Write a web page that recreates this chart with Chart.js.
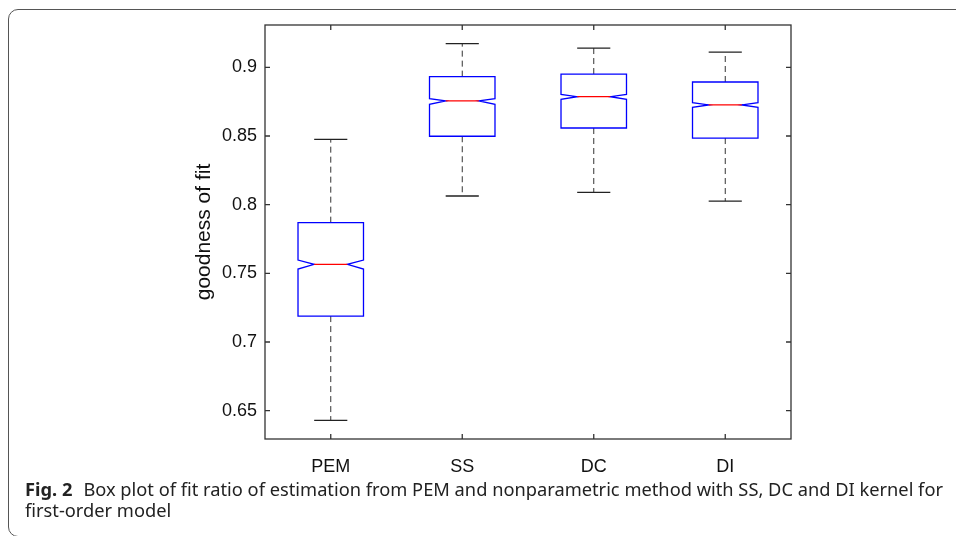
<!DOCTYPE html>
<html>
<head>
<meta charset="utf-8">
<script src="https://cdn.jsdelivr.net/npm/chart.js@4.4.1/dist/chart.umd.min.js"></script>
<style>
  html, body { margin: 0; padding: 0; background: #fff; }
  #wrap { position: relative; width: 956px; height: 536px; overflow: hidden; }
  #chart { position: absolute; left: 0; top: 0; }
  #card {
    position: absolute; left: 8px; top: 9px; width: 1000px; height: 528px;
    box-sizing: border-box; border: 1.3px solid #555; border-radius: 10px;
  }
  #caption {
    position: absolute; left: 25px; top: 479px; white-space: nowrap;
    font-family: "Noto Sans", "Open Sans", sans-serif; font-size: 17.5px;
    line-height: 21px; color: #222; transform-origin: 0 0;
  }
  #caption b { font-weight: 700; margin-right: 6px; }
</style>
</head>
<body>
<div id="wrap">
  <canvas id="chart" width="956" height="536"></canvas>
  <div id="card"></div>
  <div id="caption">
    <div id="line1"><b>Fig. 2</b> Box plot of fit ratio of estimation from PEM and nonparametric method with SS, DC and DI kernel for</div>
    <div>first-order model</div>
  </div>
</div>
<script>
// Box plot values
const categories = ['PEM', 'SS', 'DC', 'DI'];
const whiskerLow = [0.643, 0.8063, 0.809, 0.8026];
const q1 = [0.7189, 0.8498, 0.8558, 0.8485];
const notchLow = [0.7531, 0.8731, 0.8767, 0.8709];
const median = [0.7566, 0.8755, 0.8786, 0.8726];
const notchHigh = [0.7597, 0.8771, 0.8803, 0.8742];
const q3 = [0.7869, 0.8932, 0.8951, 0.8893];
const whiskerHigh = [0.8476, 0.9172, 0.914, 0.9111];

// Axis
const yTicks = [0.65, 0.7, 0.75, 0.8, 0.85, 0.9];
const yTickLabels = ['0.65', '0.7', '0.75', '0.8', '0.85', '0.9'];
const yMin = 0.6294;
const yMax = 0.9308;

// Draws notched boxes, whiskers, frame and inward ticks
const boxPlotPlugin = {
    id: 'boxPlot',
    afterDatasetsDraw(chart) {
        const ctx = chart.ctx;
        const xs = chart.scales.x, ys = chart.scales.y;
        const area = chart.chartArea;
        const step = Math.abs(xs.getPixelForValue(1) - xs.getPixelForValue(0));
        const half = step * 0.249;
        const notchHalf = step * 0.126;

        ctx.save();
        for (let i = 0; i < categories.length; i++) {
            const cx = xs.getPixelForValue(i);
            const L = cx - half, R = cx + half;
            const yq1 = ys.getPixelForValue(q1[i]);
            const yq3 = ys.getPixelForValue(q3[i]);
            const ym = ys.getPixelForValue(median[i]);
            const ynl = ys.getPixelForValue(notchLow[i]);
            const ynh = ys.getPixelForValue(notchHigh[i]);
            const ywl = ys.getPixelForValue(whiskerLow[i]);
            const ywh = ys.getPixelForValue(whiskerHigh[i]);

            // whiskers
            ctx.strokeStyle = '#333';
            ctx.lineWidth = 1;
            ctx.setLineDash([6, 4]);
            ctx.beginPath();
            ctx.moveTo(cx, yq3); ctx.lineTo(cx, ywh);
            ctx.moveTo(cx, yq1); ctx.lineTo(cx, ywl);
            ctx.stroke();
            ctx.setLineDash([]);
            ctx.strokeStyle = '#222';
            ctx.lineWidth = 1.3;
            ctx.beginPath();
            ctx.moveTo(cx - notchHalf, ywh); ctx.lineTo(cx + notchHalf, ywh);
            ctx.moveTo(cx - notchHalf, ywl); ctx.lineTo(cx + notchHalf, ywl);
            ctx.stroke();

            // notched box
            ctx.strokeStyle = '#0000ff';
            ctx.lineWidth = 1.3;
            ctx.beginPath();
            ctx.moveTo(L, yq3);
            ctx.lineTo(L, ynh);
            ctx.lineTo(cx - notchHalf, ym);
            ctx.lineTo(L, ynl);
            ctx.lineTo(L, yq1);
            ctx.lineTo(R, yq1);
            ctx.lineTo(R, ynl);
            ctx.lineTo(cx + notchHalf, ym);
            ctx.lineTo(R, ynh);
            ctx.lineTo(R, yq3);
            ctx.closePath();
            ctx.stroke();

            // median
            ctx.strokeStyle = '#ff0000';
            ctx.beginPath();
            ctx.moveTo(cx - notchHalf, ym); ctx.lineTo(cx + notchHalf, ym);
            ctx.stroke();
        }

        // frame
        ctx.strokeStyle = '#333';
        ctx.lineWidth = 1.3;
        ctx.strokeRect(area.left, area.top, area.right - area.left, area.bottom - area.top);

        // inward ticks
        const tl = 5;
        ctx.beginPath();
        yTicks.forEach(v => {
            const py = ys.getPixelForValue(v);
            ctx.moveTo(area.left, py); ctx.lineTo(area.left + tl, py);
            ctx.moveTo(area.right, py); ctx.lineTo(area.right - tl, py);
        });
        categories.forEach((c, i) => {
            const px = xs.getPixelForValue(i);
            ctx.moveTo(px, area.bottom); ctx.lineTo(px, area.bottom - tl);
            ctx.moveTo(px, area.top); ctx.lineTo(px, area.top + tl);
        });
        ctx.stroke();
        ctx.restore();
    }
};

const ctx = document.getElementById('chart').getContext('2d');
new Chart(ctx, {
    type: 'bar',
    data: {
        labels: categories,
        datasets: [{
            data: categories.map((c, i) => [q1[i], q3[i]]),
            backgroundColor: 'rgba(0,0,0,0)',
            borderWidth: 0
        }]
    },
    options: {
        responsive: false,
        animation: false,
        events: [],
        layout: { padding: { left: 185, right: 165, top: 25, bottom: 0 } },
        plugins: { legend: { display: false }, tooltip: { enabled: false } },
        scales: {
            x: {
                type: 'category',
                offset: true,
                grid: { display: false, drawTicks: false },
                border: { display: false },
                ticks: {
                    color: '#111', padding: 17, maxRotation: 0,
                    font: { family: '"Liberation Sans", Arial, sans-serif', size: 18 }
                },
                afterFit: s => { s.height = 97; }
            },
            y: {
                min: yMin,
                max: yMax,
                grid: { display: false, drawTicks: false },
                border: { display: false },
                afterBuildTicks: s => { s.ticks = yTicks.map(v => ({ value: v })); },
                ticks: {
                    color: '#111', padding: 8,
                    font: { family: '"Liberation Sans", Arial, sans-serif', size: 18 },
                    callback: (v) => yTickLabels[yTicks.indexOf(v)] ?? ''
                },
                title: {
                    display: true, text: 'goodness of fit', color: '#111',
                    padding: { top: 7, bottom: 0 },
                    font: { family: '"Liberation Sans", Arial, sans-serif', size: 21 }
                },
                afterFit: s => { s.width = 80; }
            }
        }
    },
    plugins: [boxPlotPlugin]
});

// squeeze caption to the width of the original line
const cap = document.getElementById('caption');
const w1 = document.getElementById('line1').getBoundingClientRect().width;
const line1Text = document.getElementById('line1');
const range = document.createRange();
range.selectNodeContents(line1Text);
const textW = range.getBoundingClientRect().width;
cap.style.transform = 'scaleX(' + (918 / textW) + ')';
</script>
</body>
</html>
